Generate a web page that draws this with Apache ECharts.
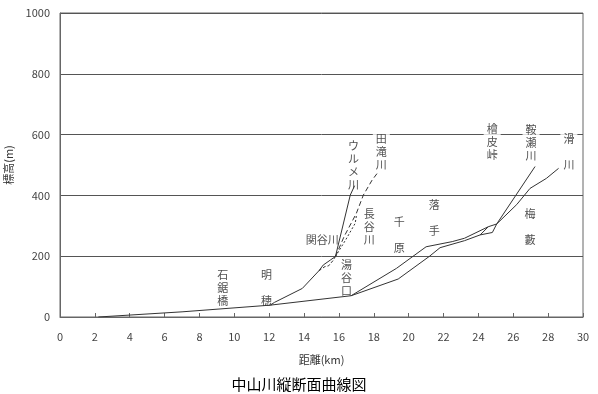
<!DOCTYPE html>
<html><head><meta charset="utf-8">
<script src="https://cdn.jsdelivr.net/npm/echarts@6/dist/echarts.min.js"></script>
<style>html,body{margin:0;padding:0;background:#fff}#c{width:598px;height:394px}</style>
</head><body><div id="c"></div>
<script>
// 距離(km), 標高(m)
const mainTrunk = [[2.2,0],[7,17],[12.06,39],[16.7,70]];
const kuraseLine = [[16.7,70],[19.3,160],[21.0,231],[22.5,248],[23.2,259],[24.57,297],[25.05,306],[27.25,495]];
const namegawaLine = [[16.7,70],[19.4,125],[21.2,200],[21.8,228],[23.2,251],[24.1,270],[24.8,278],[25.05,306],[26.2,370],[26.96,423],[27.9,456],[28.6,489]];
const crossLink = [[24.1,270],[24.57,297]];
const urumeLine = [[12.06,39],[12.3,48],[13.9,94],[14.85,152],[15.1,171],[15.5,187],[15.8,199],[16.65,401],[16.9,432]];
const tadakiLine = [[15.8,199],[16.3,265],[17.0,341],[17.4,401],[17.9,450],[18.2,473]];
const haseLine = [[15.8,199],[16.4,255],[16.93,308],[17.0,332]];
const sekiyaLine = [[14.85,152],[15.2,166],[15.4,168],[15.65,185],[15.8,199]];
const xTicks = {min:0, max:30, interval:2};
const yTicks = {min:0, max:1000, interval:200};
const placeLabels = [
  [9.33,95,'石\n鋸\n橋'],
  [11.85,95,'明\n\n穂'],
  [15.05,253,'関谷川'],
  [16.43,128,'湯\n谷\n口'],
  [16.83,500,'ウ\nル\nメ\n川'],
  [18.43,543,'田\n滝\n川'],
  [17.74,296,'長\n谷\n川'],
  [19.46,270,'千\n\n原'],
  [21.47,326,'落\n\n手'],
  [24.79,576,'檜\n皮\n峠'],
  [27.02,572,'鞍\n瀬\n川'],
  [29.19,543,'滑\n\n川'],
  [26.96,296,'梅\n\n藪']
];
const titleText = '中山川縦断面曲線図';
const xName = '距離(km)';
const yName = '標高(m)';

const FONT = '"Noto Sans CJK JP", "Liberation Sans", sans-serif';
const lineColor = '#333';
function lineSeries(data, type) {
  return {type:'line', data:data, symbol:'none', z:3, silent:true,
    lineStyle:{color:lineColor, width:1, type:type||'solid'}};
}
const chart = echarts.init(document.getElementById('c'), null, {renderer:'canvas'});
chart.setOption({
  animation:false,
  backgroundColor:'#fff',
  title:{text:titleText, left:'center', top:372, textStyle:{fontFamily:FONT, fontSize:15, fontWeight:'normal', color:'#000'}},
  grid:{left:60, right:15, top:13, bottom:77, containLabel:false, outerBoundsMode:'none',
    show:true, borderColor:'#666', borderWidth:1, backgroundColor:'transparent'},
  xAxis:{type:'value', min:xTicks.min, max:xTicks.max, interval:xTicks.interval,
    name:xName, nameLocation:'middle', nameGap:37, nameTextStyle:{fontFamily:FONT, fontSize:11, color:'#333'},
    axisLine:{show:true, lineStyle:{color:'#666'}},
    axisTick:{show:true, inside:true, length:4, lineStyle:{color:'#666'}},
    axisLabel:{fontFamily:FONT, fontSize:11, color:'#444', margin:14, formatter:v=>String(v)},
    splitLine:{show:false}},
  yAxis:{type:'value', min:yTicks.min, max:yTicks.max, interval:yTicks.interval,
    name:yName, nameLocation:'middle', nameGap:40, nameTextStyle:{fontFamily:FONT, fontSize:11, color:'#333'},
    axisLine:{show:true, lineStyle:{color:'#666'}},
    axisTick:{show:false},
    axisLabel:{fontFamily:FONT, fontSize:11, color:'#444', margin:10, formatter:v=>String(v)},
    splitLine:{show:true, lineStyle:{color:'#555', width:1}}},
  series:[
    lineSeries(mainTrunk),
    lineSeries(kuraseLine),
    lineSeries(namegawaLine),
    lineSeries(crossLink),
    lineSeries(urumeLine),
    lineSeries(tadakiLine,[5,3]),
    lineSeries(haseLine,[2,2]),
    lineSeries(sekiyaLine,[3,2]),
    {type:'scatter', z:1, silent:true, symbolSize:0,
      data:placeLabels.map(d=>({value:[d[0],d[1]], name:d[2]})),
      label:{show:true, position:'inside', formatter:p=>p.name, fontFamily:FONT, fontSize:11, lineHeight:13,
        color:'#222', align:'center', verticalAlign:'middle', backgroundColor:'#fff', padding:[1,3]}}
  ]
});
</script></body></html>
